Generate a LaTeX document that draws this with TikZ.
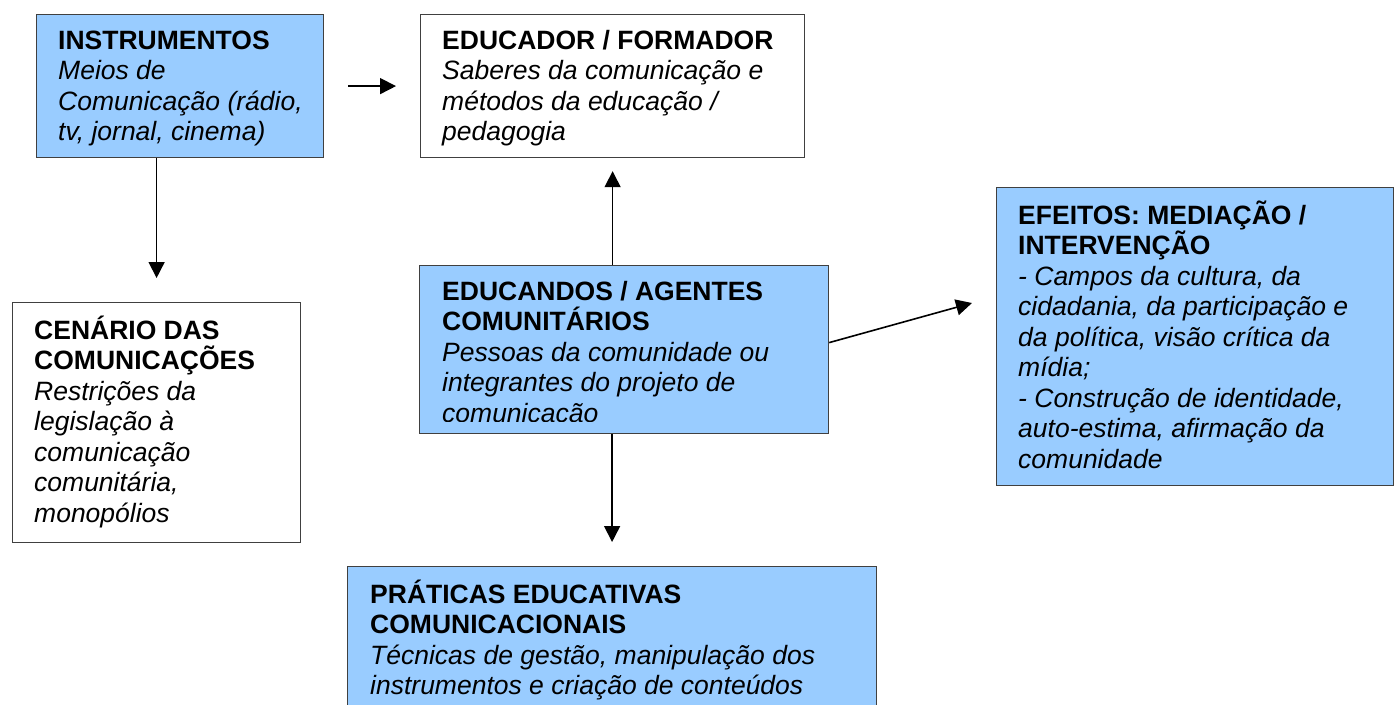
\documentclass[tikz,border=0pt]{standalone}
\usepackage{fontspec}
\setmainfont{Liberation Sans}
\usepackage{tikz}
\usetikzlibrary{arrows.meta,positioning}
\definecolor{boxblue}{HTML}{99CCFF}
\definecolor{boxline}{HTML}{404040}
\newcommand{\boxfont}{\fontsize{26.5}{30.5}\selectfont\setlength{\lineskiplimit}{-100pt}\itshape}
\tikzset{
  box/.style={draw=boxline, line width=1.2pt, anchor=north west, inner sep=0pt},
  bluebox/.style={box, fill=boxblue},
  boxtext/.style={inner sep=0pt, align=left, font=\boxfont},
  link/.style={-{Triangle[length=16pt,width=16pt]}, line width=1.6pt},
}
\newcommand{\hd}[1]{\textbf{\upshape #1}}

\begin{document}
\begin{tikzpicture}[x=1pt, y=-1pt]
  \useasboundingbox (0,0) rectangle (1394,704);
  % boxes
  \node[bluebox, minimum width=287pt, minimum height=143pt] (instr) at (36,14) {};
  \node[box, minimum width=384pt, minimum height=143pt] (educador) at (420,14) {};
  \node[box, minimum width=288pt, minimum height=240pt] (cenario) at (12,302) {};
  \node[bluebox, minimum width=409pt, minimum height=168pt] (educandos) at (419,265) {};
  \node[bluebox, minimum width=397pt, minimum height=298pt] (efeitos) at (996,187) {};
  \node[bluebox, minimum width=529pt, minimum height=160pt] (praticas) at (347,566) {};
  % texts
  \node[boxtext, below right=13.65pt and 22pt of instr.north west] (instrtxt)
    {\strut\hd{INSTRUMENTOS}\\ Meios de\\ Comunicação (rádio,\\ tv, jornal, cinema)};
  \node[boxtext, below right=13.65pt and 22pt of educador.north west] (educadortxt)
    {\strut\hd{EDUCADOR / FORMADOR}\\ Saberes da comunicação e\\ métodos da educação /\\ pedagogia};
  \node[boxtext, below right=13.65pt and 22pt of cenario.north west] (cenariotxt)
    {\strut\hd{CENÁRIO DAS}\\ \hd{COMUNICAÇÕES}\\ Restrições da\\ legislação à\\
     comunicação\\ comunitária,\\ monopólios};
  \begin{scope}
    \clip (educandos.north west) rectangle ([yshift=13pt]educandos.south east);
    \node[boxtext, below right=13.65pt and 23pt of educandos.north west] (educandostxt)
      {\strut\hd{EDUCANDOS / AGENTES}\\ \hd{COMUNITÁRIOS}\\ Pessoas da comunidade ou\\
       integrantes do projeto de\\ comunicação};
  \end{scope}
  \node[boxtext, below right=13.65pt and 22pt of efeitos.north west] (efeitostxt)
    {\strut\hd{EFEITOS: MEDIAÇÃO /}\\ \hd{INTERVENÇÃO}\\ - Campos da cultura, da\\
     cidadania, da participação e\\ da política, visão crítica da\\ mídia;\\
     - Construção de identidade,\\ auto-estima, afirmação da\\ comunidade};
  \node[boxtext, below right=13.65pt and 23pt of praticas.north west] (praticastxt)
    {\strut\hd{PRÁTICAS EDUCATIVAS}\\ \hd{COMUNICACIONAIS}\\
     Técnicas de gestão, manipulação dos\\ instrumentos e criação de conteúdos};
  % arrows
  \coordinate (eftip) at (972,303);
  \draw[link, shorten <=24pt, shorten >=24pt] (instr.east) -- (educador.west);
  \draw[link, shorten >=24pt] (instr.south -| cenario.north) -- (cenario.north);
  \draw[link, shorten >=13pt] (educandos.north -| educador.south) -- (educador.south);
  \draw[link, shorten >=24pt] (educandos.south -| praticas.north) -- (praticas.north);
  \draw[link] ([yshift=7pt]educandos.east) -- (eftip);
\end{tikzpicture}
\end{document}
